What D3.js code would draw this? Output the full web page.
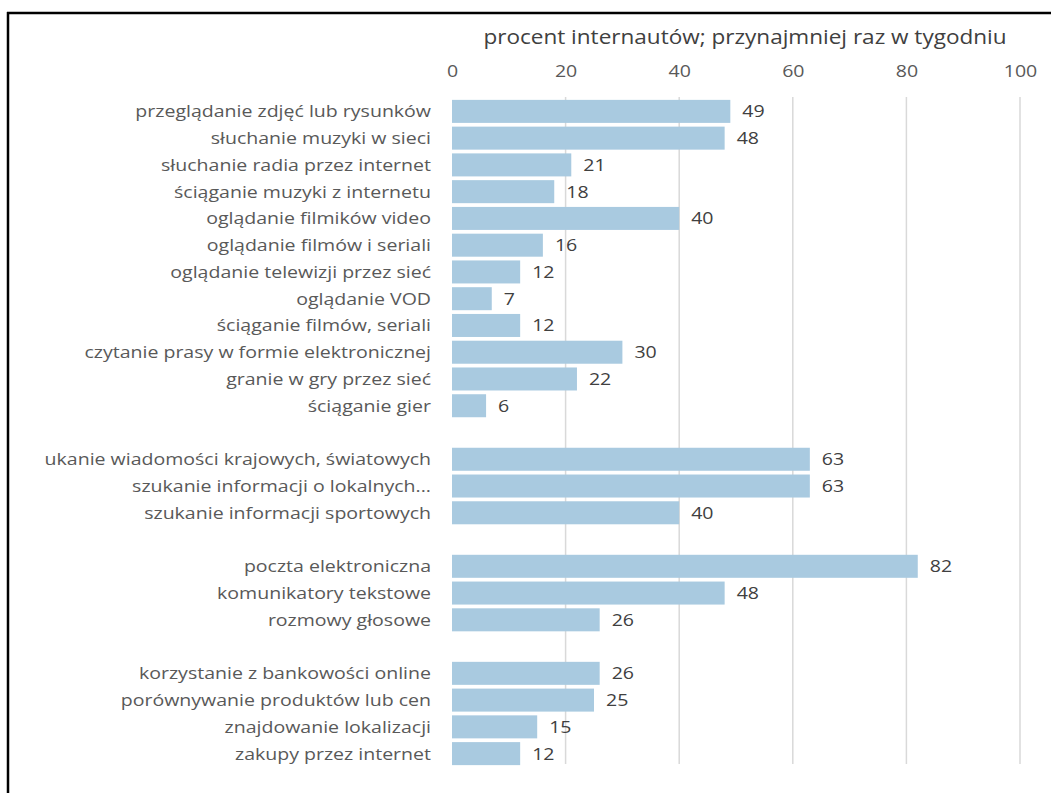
<!DOCTYPE html>
<html>
<head>
<meta charset="utf-8">
<script src="https://cdn.jsdelivr.net/npm/d3@7"></script>
<style>
  html, body { margin: 0; padding: 0; background: #ffffff; }
  svg { display: block; }
</style>
</head>
<body>
<svg id="chart" width="1051" height="793"></svg>
<script>
// ---- data ----
const categories = [
  "przeglądanie zdjęć lub rysunków",
  "słuchanie muzyki w sieci",
  "słuchanie radia przez internet",
  "ściąganie muzyki z internetu",
  "oglądanie filmików video",
  "oglądanie filmów i seriali",
  "oglądanie telewizji przez sieć",
  "oglądanie VOD",
  "ściąganie filmów, seriali",
  "czytanie prasy w formie elektronicznej",
  "granie w gry przez sieć",
  "ściąganie gier",
  "",
  "ukanie wiadomości krajowych, światowych",
  "szukanie informacji o lokalnych...",
  "szukanie informacji sportowych",
  " ",
  "poczta elektroniczna",
  "komunikatory tekstowe",
  "rozmowy głosowe",
  "  ",
  "korzystanie z bankowości online",
  "porównywanie produktów lub cen",
  "znajdowanie lokalizacji",
  "zakupy przez internet"
];
const values = [49, 48, 21, 18, 40, 16, 12, 7, 12, 30, 22, 6, null, 63, 63, 40, null, 82, 48, 26, null, 26, 25, 15, 12];
const xTicks = [0, 20, 40, 60, 80, 100];
const axisTitle = "procent internautów; przynajmniej raz w tygodniu";

// ---- layout ----
const svg = d3.select("#chart");
const FONT = "'Open Sans', Lato, sans-serif";
const SX = 1.15; // horizontal stretch of text as seen in the reference

// frame (top and left border)
svg.append("line").attr("x1", 7).attr("x2", 1051).attr("y1", 13).attr("y2", 13)
  .attr("stroke", "#000").attr("stroke-width", 2.5);
svg.append("line").attr("x1", 8).attr("x2", 8).attr("y1", 12).attr("y2", 793)
  .attr("stroke", "#000").attr("stroke-width", 2.5);

const x = d3.scaleLinear().domain([0, 100]).range([452, 1020]);
const y = d3.scaleBand().domain(categories).range([98, 767]).paddingInner(0.14).paddingOuter(0.07);

// gridlines
svg.append("g").selectAll("line").data(xTicks.filter(d => d > 0)).join("line")
  .attr("x1", d => x(d)).attr("x2", d => x(d))
  .attr("y1", 97).attr("y2", 764)
  .attr("stroke", "#d9d9d9").attr("stroke-width", 1.5);

// top axis labels
const axis = d3.axisTop(x).tickValues(xTicks).tickSize(0).tickPadding(0);
const gAxis = svg.append("g").attr("transform", "translate(0,77)").call(axis);
gAxis.select(".domain").remove();
gAxis.selectAll("text").attr("font-family", FONT).attr("font-size", 17).attr("fill", "#595959")
  .attr("transform", `scale(${SX},1)`);

// axis title
svg.append("text").attr("transform", `translate(745,37) scale(${SX - 0.05},1)`).attr("dy", "0.35em")
  .attr("text-anchor", "middle").attr("font-family", FONT).attr("font-size", 20.5)
  .attr("fill", "#404040").text(axisTitle);

// bars
const rows = categories.map((c, i) => ({ c, v: values[i] })).filter(d => d.v != null);
svg.append("g").selectAll("rect").data(rows).join("rect")
  .attr("x", x(0)).attr("y", d => y(d.c))
  .attr("width", d => x(d.v) - x(0)).attr("height", y.bandwidth())
  .attr("fill", "#a9cae0");

// category labels
svg.append("g").selectAll("text").data(rows).join("text")
  .attr("transform", d => `translate(431,${y(d.c) + y.bandwidth() / 2}) scale(${SX},1)`)
  .attr("dy", "0.35em")
  .attr("text-anchor", "end").attr("font-family", FONT).attr("font-size", 17)
  .attr("fill", "#595959").text(d => d.c);

// value labels
svg.append("g").selectAll("text").data(rows).join("text")
  .attr("transform", d => `translate(${x(d.v) + 12},${y(d.c) + y.bandwidth() / 2}) scale(${SX},1)`)
  .attr("dy", "0.35em")
  .attr("text-anchor", "start").attr("font-family", FONT).attr("font-size", 17)
  .attr("fill", "#404040").text(d => d.v);
</script>
</body>
</html>
